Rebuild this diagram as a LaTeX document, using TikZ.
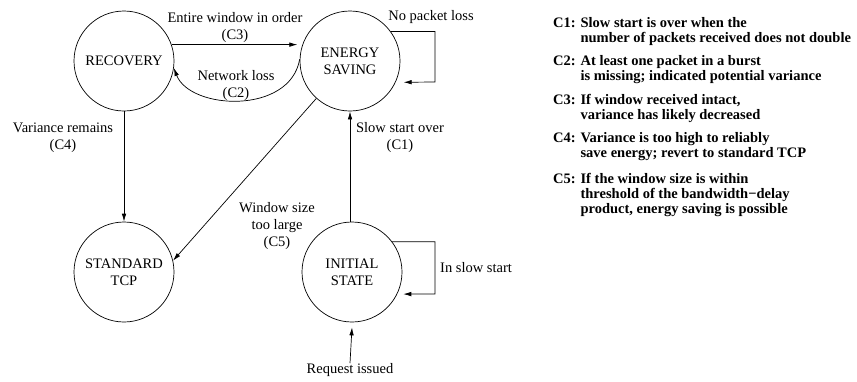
\documentclass[tikz,border=0pt]{standalone}
\usepackage{fontspec}
\setmainfont{Liberation Serif}
\usetikzlibrary{arrows.meta}
\begin{document}
\begin{tikzpicture}[x=1pt,y=-1pt,
  state/.style={draw,circle,line width=0.7pt,minimum size=100pt,inner sep=0pt,
    align=center,font=\fontsize{14.5}{17}\selectfont},
  arr/.style={line width=0.7pt,-{Latex[length=8pt,width=4.5pt]}},
  plain/.style={line width=0.7pt},
  lbl/.style={align=center,inner sep=0pt,font=\fontsize{14.5}{17}\selectfont},
  cond/.style={anchor=base west,inner sep=0pt,font=\fontsize{14.5}{15}\selectfont\bfseries}]
\useasboundingbox (0,0) rectangle (857,381);

% states
\node[state] (rec)  at (124,61)  {RECOVERY};
\node[state] (es)   at (350,61)  {ENERGY\\SAVING};
\node[state] (std)  at (124,272) {STANDARD\\TCP};
\node[state] (init) at (352,272) {INITIAL\\STATE};

% transitions
\draw[arr] (rec.19) -- ([xshift=-5pt]es.161);
\node[lbl] (l3) at (235,28) {Entire window in order\\(C3)};

\draw[arr] (es.178) .. controls (290,115) and (190,110) .. (rec.-8);
\node[lbl] (l2) at (236,86) {Network loss\\(C2)};

\coordinate (esc) at (435,82);
\draw[arr] (es.36) -| (esc) -- ([xshift=8pt]es.-25);
\node[lbl,anchor=base] (lnp) at (431,20) {No packet loss};

\draw[arr] (rec.south) -- (std.north);
\node[lbl] (l4) at (63,138) {Variance remains\\(C4)};

\draw[arr] (es.228) -- (std.13);
\node[lbl] (l5) at (277,226) {Window size\\too large\\(C5)};

\draw[arr] (init.north -| es.south) -- (es.south);
\node[lbl] (l1) at (400,138) {Slow start over\\(C1)};

\coordinate (isc) at (435,294);
\draw[arr] (init.37) -| (isc) -- ([xshift=6pt]init.-26);
\node[lbl,anchor=west] (lss) at (440,268) {In slow start};

\node[lbl] (req) at (350,370) {Request issued};
\draw[arr] (req.north) -- ([yshift=-5pt]init.south);

% condition legend
\node[cond] (c1) at (553,36)  {\begin{tabular}{@{}l@{ }l@{}}C1: & Slow start is over when the\\ & number of packets received does not double\end{tabular}};
\node[cond] (c2) at (553,74)  {\begin{tabular}{@{}l@{ }l@{}}C2: & At least one packet in a burst\\ & is missing; indicated potential variance\end{tabular}};
\node[cond] (c3) at (553,113) {\begin{tabular}{@{}l@{ }l@{}}C3: & If window received intact,\\ & variance has likely decreased\end{tabular}};
\node[cond] (c4) at (553,151) {\begin{tabular}{@{}l@{ }l@{}}C4: & Variance is too high to reliably\\ & save energy; revert to standard TCP\end{tabular}};
\node[cond] (c5) at (553,199) {\begin{tabular}{@{}l@{ }l@{}}C5: & If the window size is within\\ & threshold of the bandwidth\textminus delay\\ & product, energy saving is possible\end{tabular}};
\end{tikzpicture}
\end{document}
